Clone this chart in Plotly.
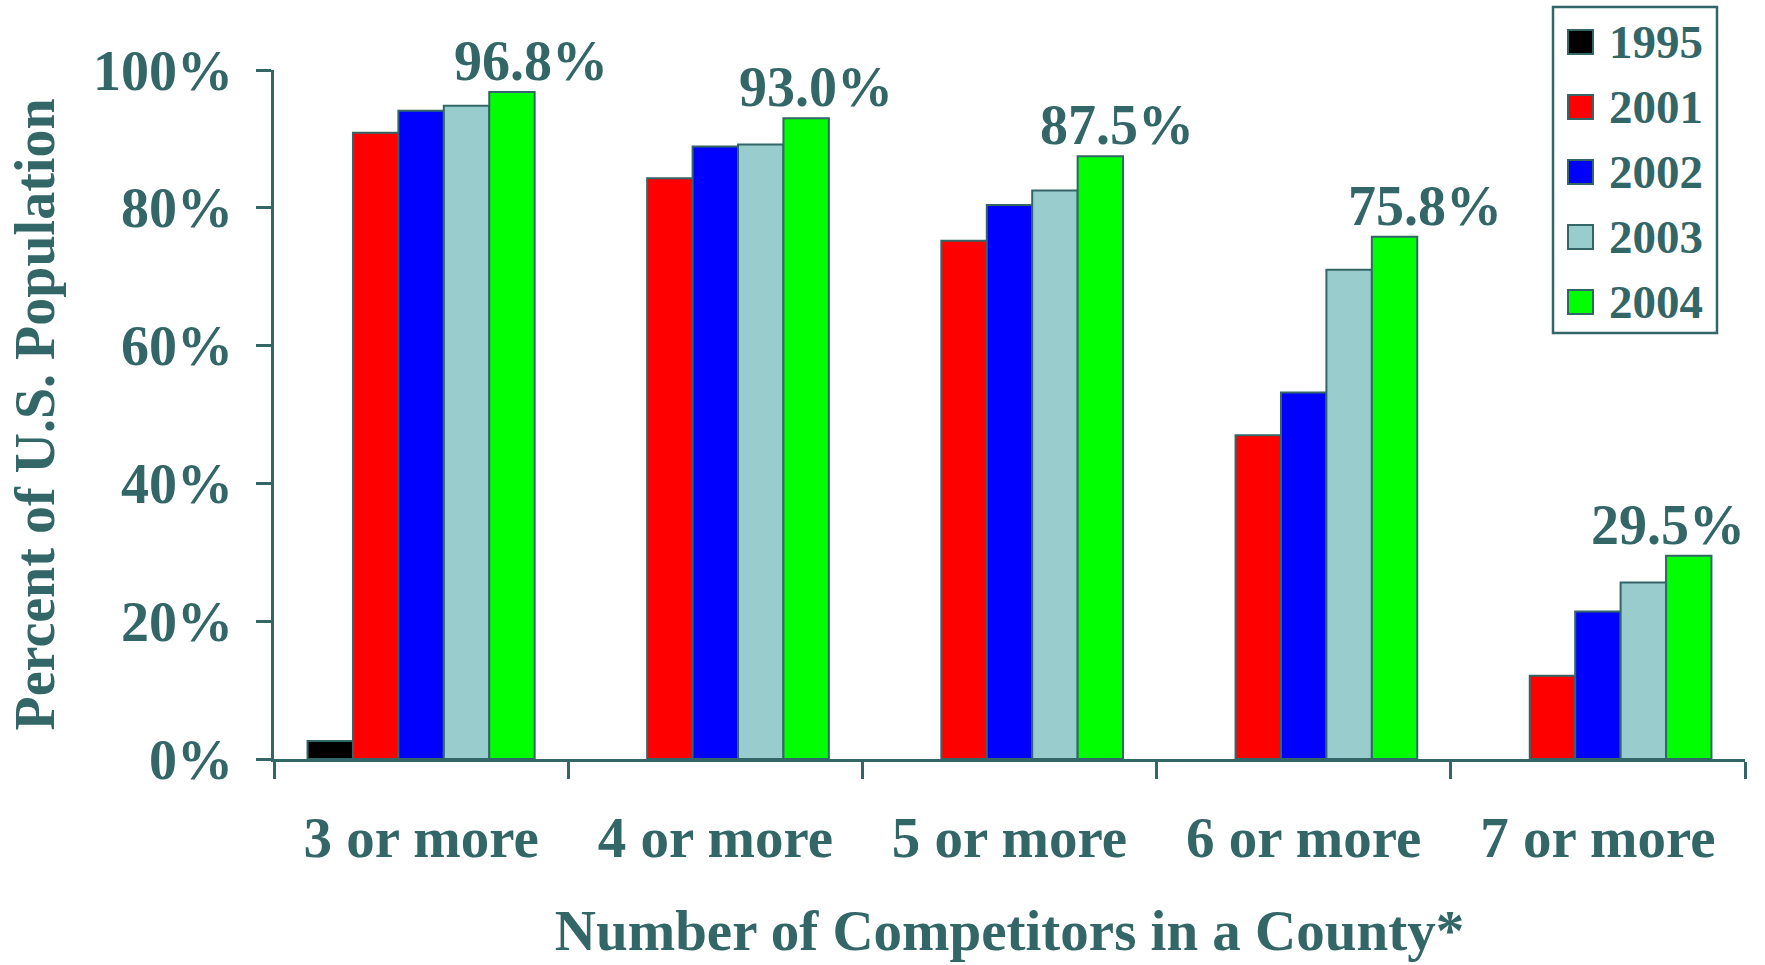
import plotly.graph_objects as go

# Share of U.S. population living in counties with N or more competitors
categories = ["3 or more", "4 or more", "5 or more", "6 or more", "7 or more"]
years = ["1995", "2001", "2002", "2003", "2004"]
colors = ["#000000", "#FF0000", "#0000FF", "#99CCCC", "#00FF00"]

pct_1995 = [2.6, None, None, None, None]
pct_2001 = [90.9, 84.3, 75.2, 47.0, 12.1]
pct_2002 = [94.1, 88.9, 80.4, 53.2, 21.4]
pct_2003 = [94.8, 89.2, 82.5, 71.0, 25.6]
pct_2004 = [96.8, 93.0, 87.5, 75.8, 29.5]
series = [pct_1995, pct_2001, pct_2002, pct_2003, pct_2004]

y_ticks = [0, 20, 40, 60, 80, 100]
y_ticktext = [f"{t}%" for t in y_ticks]

TEAL = "#336666"
FONT = "Liberation Serif, Times New Roman, serif"

W, H = 1765, 965
ML, MR, MT, MB = 274, 20, 70, 206
PW, PH = W - ML - MR, H - MT - MB
BARGAP = 0.228

fig = go.Figure()
for name, vals, col in zip(years, series, colors):
    fig.add_trace(go.Bar(
        x=categories, y=vals, name=name,
        marker=dict(color=col, line=dict(color=TEAL, width=2)),
        showlegend=False,
    ))

# value labels above the 2004 bars; horizontal nudge (px) keeps them clear of the frame
bar_px = PW / len(categories) * (1 - BARGAP) / len(years)
label_nudge = [19, 10, 17, 30, -21]
for cat, v, dx in zip(categories, pct_2004, label_nudge):
    fig.add_annotation(
        x=cat, y=v, text=f"{v:.1f}%", showarrow=False,
        xanchor="center", yanchor="bottom",
        xshift=2 * bar_px + dx, yshift=-2,
        font=dict(family=FONT, size=56, color=TEAL, weight="bold"),
    )

# legend box drawn in pixel space
def px_x(p):
    return (p - ML) / PW

def px_y(p):
    return (MT + PH - p) / PH

shapes = [dict(type="rect", xref="paper", yref="paper",
               x0=px_x(1553), x1=px_x(1717), y0=px_y(7), y1=px_y(333),
               line=dict(color=TEAL, width=2.5), fillcolor="white", layer="above")]
for i, (name, col) in enumerate(zip(years, colors)):
    cy = 42 + 65 * i
    shapes.append(dict(type="rect", xref="paper", yref="paper",
                       x0=px_x(1568), x1=px_x(1593), y0=px_y(cy - 12), y1=px_y(cy + 12),
                       line=dict(color=TEAL, width=2), fillcolor=col, layer="above"))
    fig.add_annotation(xref="paper", yref="paper", x=px_x(1607), y=px_y(cy),
                       text=name, showarrow=False, xanchor="left", yanchor="middle",
                       font=dict(family=FONT, size=47, color=TEAL, weight="bold"))

fig.update_layout(
    width=W, height=H,
    margin=dict(l=ML, r=MR, t=MT, b=MB),
    paper_bgcolor="white", plot_bgcolor="white",
    barmode="group", bargap=BARGAP, bargroupgap=0,
    font=dict(family=FONT, color=TEAL, weight="bold"),
    shapes=shapes,
    xaxis=dict(
        range=[-0.5, len(categories) - 0.5],
        showline=True, linecolor=TEAL, linewidth=2.5,
        ticks="outside", tickson="boundaries", ticklen=17, tickwidth=2.5, tickcolor=TEAL,
        tickfont=dict(family=FONT, size=57, color=TEAL, weight="bold"),
        ticklabelstandoff=27,
        title=dict(text="Number of Competitors in a County*", standoff=42,
                   font=dict(family=FONT, size=57, color=TEAL, weight="bold")),
        showgrid=False, zeroline=False,
    ),
    yaxis=dict(
        range=[0, 100], tickvals=y_ticks, ticktext=y_ticktext,
        showline=True, linecolor=TEAL, linewidth=2.5,
        ticks="outside", ticklen=15, tickwidth=2.5, tickcolor=TEAL,
        tickfont=dict(family=FONT, size=56, color=TEAL, weight="bold"),
        ticklabelstandoff=12,
        title=dict(text="Percent of U.S. Population", standoff=21,
                   font=dict(family=FONT, size=56, color=TEAL, weight="bold")),
        showgrid=False, zeroline=False,
    ),
)

fig.write_html("out.html")
